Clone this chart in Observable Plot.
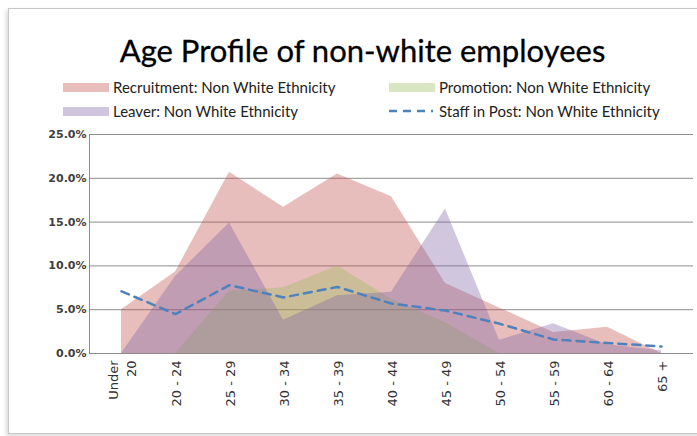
<!DOCTYPE html>
<html>
<head>
<meta charset="utf-8">
<script src="https://cdn.jsdelivr.net/npm/d3@7"></script>
<script src="https://cdn.jsdelivr.net/npm/@observablehq/plot@0.6"></script>
<style>
  html, body { margin: 0; padding: 0; background: #fff; }
  #wrap { position: relative; width: 697px; height: 436px; overflow: hidden; }
  #frame { position: absolute; left: 8px; top: 8px; width: 700px; height: 424px;
           border: 1px solid #c8c8c8; box-shadow: -2px 2px 4px rgba(0,0,0,0.15); }
  #title { position: absolute; left: 0; width: 725px; top: 31px; text-align: center;
           font-family: Lato, "Open Sans", sans-serif; font-size: 31px; color: #000; -webkit-text-stroke: 0.3px #000; }
  .leg { position: absolute; font-family: Lato, "Open Sans", sans-serif; font-size: 15px; color: #222;
         white-space: nowrap; line-height: 16px; }
  .sw { position: absolute; width: 46px; height: 9px; }
  #chart { position: absolute; left: 0; top: 120px; }
</style>
</head>
<body>
<div id="wrap">
  <div id="frame"></div>
  <div id="title">Age Profile of non-white employees</div>
  <div id="legend"></div>
  <div id="chart"></div>
</div>
<script>
const categories = ["Under\n20", "20 - 24", "25 - 29", "30 - 34", "35 - 39", "40 - 44", "45 - 49", "50 - 54", "55 - 59", "60 - 64", "65 +"];
const recruitment = [5.0, 9.3, 20.7, 16.7, 20.5, 17.9, 8.0, 5.2, 2.4, 3.0, 0.0];
const promotion   = [0.0, 0.0, 7.1, 7.5, 10.0, 6.2, 3.5, 0.0, 0.0, 0.0, 0.0];
const leaver      = [0.0, 8.8, 14.9, 3.8, 6.6, 7.0, 16.5, 1.5, 3.4, 1.0, 0.3];
const staffInPost = [7.1, 4.5, 7.8, 6.4, 7.6, 5.7, 4.9, 3.4, 1.6, 1.2, 0.8];
const yTicks = [0, 0.05, 0.10, 0.15, 0.20, 0.25];
const seriesNames = ["Recruitment: Non White Ethnicity", "Promotion: Non White Ethnicity", "Leaver: Non White Ethnicity", "Staff in Post: Non White Ethnicity"];

const colors = { rec: "#c0504d", pro: "#9bbb59", lea: "#8064a2", staff: "#4f81bd" };
const op = 0.37;

const mk = (vals) => categories.map((c, i) => ({ cat: c, v: vals[i] / 100 }));
const recData = mk(recruitment), proData = mk(promotion), leaData = mk(leaver), staffData = mk(staffInPost);

const font = "'DejaVu Sans', Verdana, sans-serif";

const chart = Plot.plot({
  width: 697,
  height: 316,
  marginLeft: 89,
  marginRight: 4,
  marginTop: 14,
  marginBottom: 83,
  style: { fontFamily: font, fontSize: "11px", color: "#333", background: "transparent" },
  x: { type: "point", domain: categories, padding: 0.5, label: null },
  y: { domain: [0, 0.25], label: null },
  marks: [
    Plot.gridY(yTicks, { stroke: "#8c8c8c", strokeOpacity: 1, strokeWidth: 1 }),
    Plot.areaY(recData, { x: "cat", y: "v", fill: colors.rec, fillOpacity: op }),
    Plot.areaY(proData, { x: "cat", y: "v", fill: colors.pro, fillOpacity: op }),
    Plot.areaY(leaData, { x: "cat", y: "v", fill: colors.lea, fillOpacity: op }),
    Plot.line(staffData, { x: "cat", y: "v", stroke: colors.staff, strokeWidth: 2.5, strokeDasharray: "8,6" }),
    Plot.frame({ anchor: "left", stroke: "#8c8c8c" }),
    Plot.ruleY([0], { stroke: "#8c8c8c" }),
    Plot.axisY(yTicks, { tickFormat: d3.format(".1%"), tickSize: 0, tickPadding: 3, fontSize: 11, fontWeight: "bold", fill: "#404040" }),
    Plot.axisX({ tickSize: 0, tickRotate: -90, tickPadding: 7, fontSize: 13, lineHeight: 1.4, fill: "#333", textAnchor: "end" })
  ]
});
document.getElementById("chart").appendChild(chart);

// legend
const legend = document.getElementById("legend");
const legItems = [
  { name: seriesNames[0], color: colors.rec, type: "area", x: 63, y: 83 },
  { name: seriesNames[1], color: colors.pro, type: "area", x: 389, y: 83 },
  { name: seriesNames[2], color: colors.lea, type: "area", x: 63, y: 107 },
  { name: seriesNames[3], color: colors.staff, type: "line", x: 389, y: 107 }
];
for (const it of legItems) {
  if (it.type === "area") {
    const s = document.createElement("div");
    s.className = "sw";
    s.style.left = it.x + "px"; s.style.top = it.y + "px";
    s.style.background = it.color; s.style.opacity = op;
    legend.appendChild(s);
  } else {
    const svg = d3.create("svg").attr("width", 46).attr("height", 10)
      .style("position", "absolute").style("left", it.x + "px").style("top", (it.y - 1) + "px");
    svg.append("line").attr("x1", 0).attr("x2", 44).attr("y1", 5).attr("y2", 5)
      .attr("stroke", it.color).attr("stroke-width", 2.5).attr("stroke-dasharray", "8,6");
    legend.appendChild(svg.node());
  }
  const t = document.createElement("div");
  t.className = "leg";
  t.textContent = it.name;
  t.style.left = (it.x + 50) + "px"; t.style.top = (it.y - 4) + "px";
  legend.appendChild(t);
}
</script>
</body>
</html>
